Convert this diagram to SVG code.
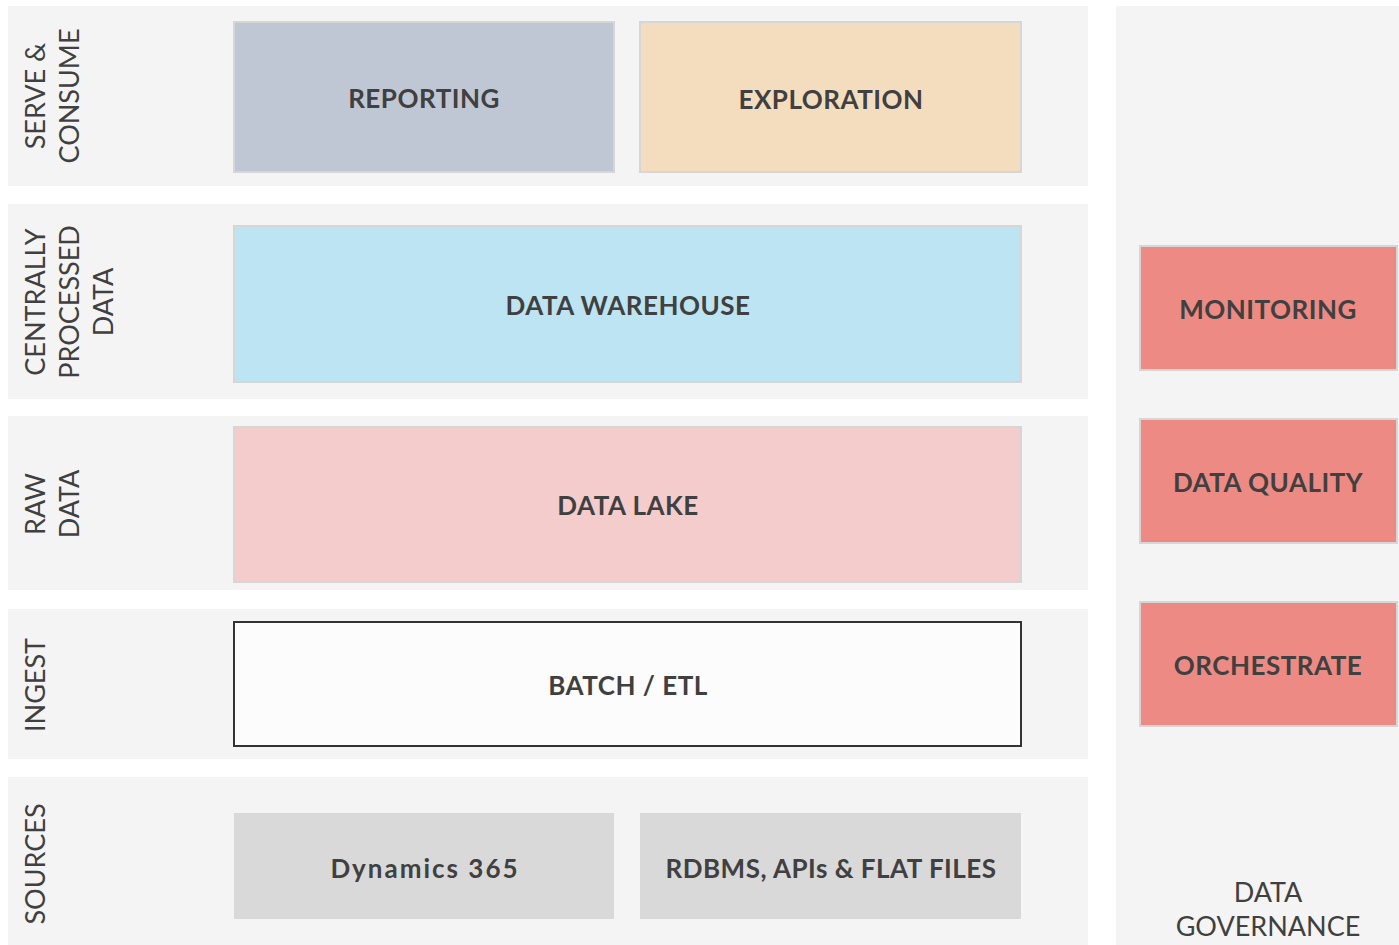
<svg xmlns="http://www.w3.org/2000/svg" width="1399" height="945" viewBox="0 0 1399 945">
<style>
.band{fill:#f4f4f4}
.box{stroke:#d6d6d6;stroke-width:2}
.t{font-family:"Lato","Liberation Sans",sans-serif;font-weight:700;font-size:26px;fill:#404040;text-anchor:middle;dominant-baseline:central;letter-spacing:0.5px}
.side{font-family:"Lato","Liberation Sans",sans-serif;font-size:27px;fill:#404040;text-anchor:middle}
</style>
<rect x="0" y="0" width="1399" height="945" fill="#ffffff"/>
<g id="bands">
<rect class="band" x="8" y="6" width="1080" height="180"/>
<rect class="band" x="8" y="204" width="1080" height="195"/>
<rect class="band" x="8" y="416" width="1080" height="174"/>
<rect class="band" x="8" y="609" width="1080" height="150"/>
<rect class="band" x="8" y="777" width="1080" height="168"/>
<rect class="band" x="1116" y="6" width="283" height="939"/>
</g>
<g id="side-labels">
<text class="side" transform="translate(45,96) rotate(-90)">SERVE &amp;</text>
<text class="side" transform="translate(79,96) rotate(-90)">CONSUME</text>
<text class="side" transform="translate(45,302) rotate(-90)">CENTRALLY</text>
<text class="side" transform="translate(79,302) rotate(-90)">PROCESSED</text>
<text class="side" transform="translate(113,302) rotate(-90)">DATA</text>
<text class="side" transform="translate(45,504) rotate(-90)">RAW</text>
<text class="side" transform="translate(79,504) rotate(-90)">DATA</text>
<text class="side" transform="translate(45,685) rotate(-90)">INGEST</text>
<text class="side" transform="translate(45,864) rotate(-90)">SOURCES</text>
<text class="side" x="1268" y="902">DATA</text>
<text class="side" x="1268" y="936">GOVERNANCE</text>
</g>
<g id="reporting"><rect class="box" x="234" y="22" width="380" height="150" fill="#bfc7d5"/><text class="t" x="424" y="98">REPORTING</text></g>
<g id="exploration"><rect class="box" x="640" y="22" width="381" height="150" fill="#f3ddbe"/><text class="t" x="831" y="99">EXPLORATION</text></g>
<g id="data-warehouse"><rect class="box" x="234" y="226" width="787" height="156" fill="#bde4f2"/><text class="t" x="628" y="305">DATA WAREHOUSE</text></g>
<g id="data-lake"><rect class="box" x="234" y="427" width="787" height="155" fill="#f4cccc"/><text class="t" x="628" y="505">DATA LAKE</text></g>
<g id="batch-etl"><rect x="234" y="622" width="787" height="124" fill="#fcfcfc" stroke="#333333" stroke-width="2"/><text class="t" x="628" y="685">BATCH / ETL</text></g>
<g id="dynamics"><rect x="234" y="813" width="380" height="106" fill="#d9d9d9"/><text class="t" x="425" y="868" style="letter-spacing:2px">Dynamics 365</text></g>
<g id="rdbms"><rect x="640" y="813" width="381" height="106" fill="#d9d9d9"/><text class="t" x="831" y="868">RDBMS, APIs &amp; FLAT FILES</text></g>
<g id="monitoring"><rect class="box" x="1140" y="246" width="257" height="124" fill="#ee8a84"/><text class="t" x="1268" y="309">MONITORING</text></g>
<g id="data-quality"><rect class="box" x="1140" y="419" width="257" height="124" fill="#ee8a84"/><text class="t" x="1268" y="482">DATA QUALITY</text></g>
<g id="orchestrate"><rect class="box" x="1140" y="602" width="257" height="124" fill="#ee8a84"/><text class="t" x="1268" y="665">ORCHESTRATE</text></g>
<g id="connectors"></g>
</svg>
